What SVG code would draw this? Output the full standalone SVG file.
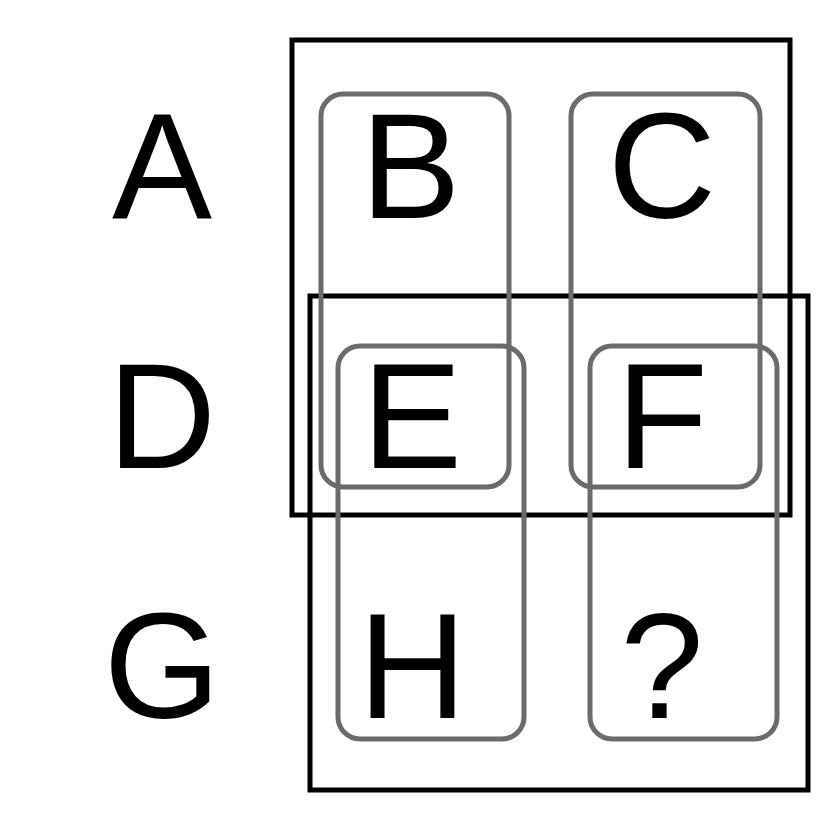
<svg xmlns="http://www.w3.org/2000/svg" width="831" height="839" viewBox="0 0 831 839">
<style>
.frame{fill:none;stroke:#000;stroke-width:5}
.cell{fill:none;stroke:#6b6b6b;stroke-width:5}
.lbl{font-family:"Liberation Sans",Arial,sans-serif;font-size:150px;fill:#000;text-anchor:middle}
</style>
<rect width="831" height="839" fill="#fff"/>
<g id="frames">
<rect id="frame-top" class="frame" x="292" y="40" width="498" height="475"/>
<rect id="frame-bottom" class="frame" x="310" y="296" width="498" height="494"/>
</g>
<g id="cells">
<rect id="cell-BE" class="cell" x="321" y="94" width="188" height="393" rx="22"/>
<rect id="cell-CF" class="cell" x="571" y="94" width="189" height="393" rx="22"/>
<rect id="cell-EH" class="cell" x="338" y="346" width="186" height="393" rx="22"/>
<rect id="cell-FQ" class="cell" x="590" y="346" width="187" height="393" rx="22"/>
</g>
<g id="labels">
<g id="A"><text class="lbl" x="162" y="218">A</text></g>
<g id="B"><text class="lbl" x="410.5" y="218">B</text></g>
<g id="C"><text class="lbl" x="662" y="218">C</text></g>
<g id="D"><text class="lbl" x="162" y="468">D</text></g>
<g id="E"><text class="lbl" x="412" y="468">E</text></g>
<g id="F"><text class="lbl" x="662" y="468">F</text></g>
<g id="G"><text class="lbl" x="162" y="718">G</text></g>
<g id="H"><text class="lbl" x="412.5" y="718">H</text></g>
<g id="Q"><text class="lbl" x="662" y="718">?</text></g>
</g>
</svg>
